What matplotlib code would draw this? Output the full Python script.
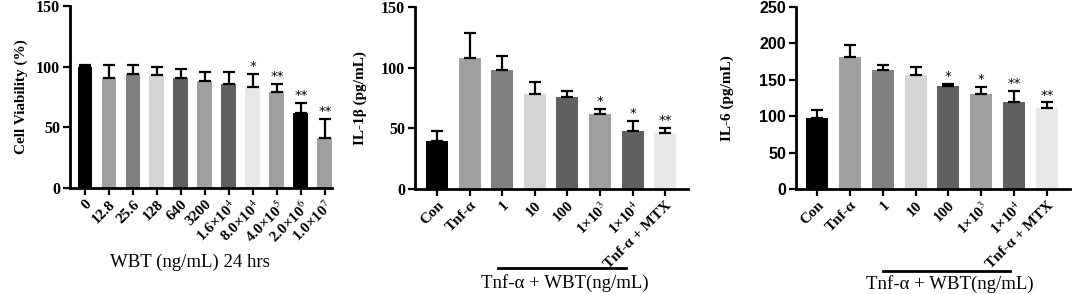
import matplotlib.pyplot as plt
import matplotlib.transforms as mtransforms
import numpy as np

plt.rcParams['mathtext.fontset'] = 'stix'

# panel 1: cell viability
via_labels = ['0', '12.8', '25.6', '128', '640', '3200', r'1.6×10$^{4}$', r'8.0×10$^{4}$',
              r'4.0×10$^{5}$', r'2.0×10$^{6}$', r'1.0×10$^{7}$']
via_vals = [100, 91, 94, 93, 91, 88, 86, 83, 79, 62, 41]
via_err = [1, 10, 7, 7, 7, 8, 10, 11, 7, 8, 16]
via_sig = ['', '', '', '', '', '', '', '*', '**', '**', '**']
via_cols = ['#000000', '#a0a0a0', '#808080', '#d4d4d4', '#606060', '#a0a0a0',
            '#606060', '#e8e8e8', '#a0a0a0', '#000000', '#a0a0a0']

# panels 2 and 3
cyt_labels = ['Con', 'Tnf-α', '1', '10', '100', r'1×10$^{3}$', r'1×10$^{4}$', 'Tnf-α + MTX']
cyt_cols = ['#000000', '#a0a0a0', '#808080', '#d4d4d4', '#606060', '#a0a0a0', '#606060', '#e8e8e8']
il1_vals = [40, 108, 98, 78, 76, 62, 48, 46]
il1_err = [8, 21, 12, 10, 5, 4, 8, 4]
il1_sig = ['', '', '', '', '', '*', '*', '**']
il6_vals = [97, 181, 164, 157, 141, 131, 119, 112]
il6_err = [12, 17, 7, 10, 3, 9, 16, 7]
il6_sig = ['', '', '', '', '*', '*', '**', '**']

serif = 'Liberation Serif'

fig = plt.figure(figsize=(10.72, 2.94), dpi=100)
ax1 = fig.add_axes([0.0653, 0.3605, 0.2444, 0.619])
ax2 = fig.add_axes([0.3871, 0.357, 0.2547, 0.619])
ax3 = fig.add_axes([0.7425, 0.357, 0.2556, 0.619])


def draw(ax, labels, vals, err, sig, cols, width, ymax, ystep, ylabel, ytickfont, xlim, lpad):
    x = np.arange(len(vals))
    ax.bar(x, vals, width=width, color=cols, zorder=2)
    ax.errorbar(x, vals, yerr=[np.zeros(len(err)), err], fmt='none', ecolor='black',
                elinewidth=1.6, capsize=4, capthick=1.6, zorder=3)
    for xi, v, e, s in zip(x, vals, err, sig):
        if s:
            ax.text(xi, v + e + ymax * 0.005, s, ha='center', va='bottom',
                    fontsize=9.5, family='DejaVu Sans')
    ax.set_ylim(0, ymax)
    ax.set_xlim(*xlim)
    ax.set_yticks(np.arange(0, ymax + 1, ystep))
    ax.set_xticks(x)
    ax.set_xticklabels(labels, rotation=45, ha='right', rotation_mode='anchor',
                       family=serif, fontweight='bold', fontsize=11)
    for t in ax.get_yticklabels():
        t.set_family(ytickfont)
        t.set_fontweight('bold')
        t.set_fontsize(11.5)
    ax.set_ylabel(ylabel, family=serif, fontweight='bold', fontsize=11, labelpad=lpad)
    for s in ['top', 'right']:
        ax.spines[s].set_visible(False)
    for s in ['left', 'bottom']:
        ax.spines[s].set_linewidth(2)
    ax.tick_params(width=1.6, length=5, pad=2)


draw(ax1, via_labels, via_vals, via_err, via_sig, via_cols, 0.62, 150, 50,
     'Cell Viability (%)', serif, (-0.625, 10.3), 6)
draw(ax2, cyt_labels, il1_vals, il1_err, il1_sig, cyt_cols, 0.67, 150, 50,
     'IL-1β (pg/mL)', serif, (-0.675, 7.7), 10)
draw(ax3, cyt_labels, il6_vals, il6_err, il6_sig, cyt_cols, 0.67, 250, 50,
     'IL-6 (pg/mL)', 'Liberation Sans', (-0.64, 7.7), 18)

ax1.text(0.458, -0.407, 'WBT (ng/mL) 24 hrs', transform=ax1.transAxes, ha='center',
         va='center', family=serif, fontsize=13.5)

for ax, x0, x1, ly, ty in [(ax2, 1.87, 5.8, -0.434, -0.516), (ax3, 2.0, 5.87, -0.45, -0.52)]:
    tr = mtransforms.blended_transform_factory(ax.transData, ax.transAxes)
    ax.plot([x0, x1], [ly, ly], color='black', lw=2, transform=tr, clip_on=False)
    ax.text((x0 + x1) / 2 + 0.1, ty, 'Tnf-α + WBT(ng/mL)', transform=tr, ha='center',
            va='center', family=serif, fontsize=13.5)

fig.savefig('out.png', dpi=100)
